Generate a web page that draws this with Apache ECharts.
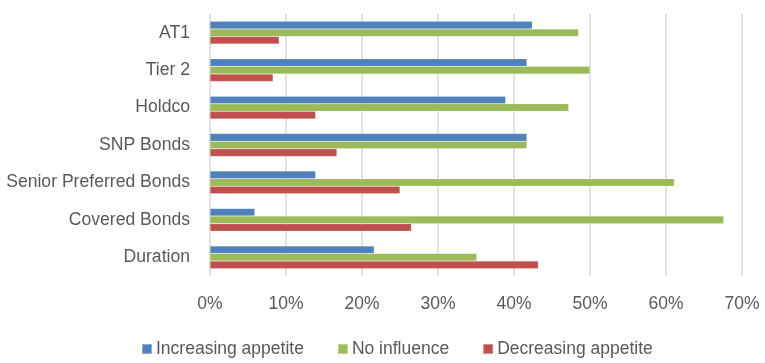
<!DOCTYPE html>
<html>
<head>
<meta charset="utf-8">
<script src="https://cdn.jsdelivr.net/npm/echarts@6/dist/echarts.min.js"></script>
<style>
  html, body { margin: 0; padding: 0; background: #ffffff; }
  #chart { width: 765px; height: 363px; }
</style>
</head>
<body>
<div id="chart"></div>
<script>
// Categories, top to bottom
var categories = ['AT1', 'Tier 2', 'Holdco', 'SNP Bonds', 'Senior Preferred Bonds', 'Covered Bonds', 'Duration'];

// Share of respondents (%)
var increasingAppetite = [42.4, 41.7, 38.9, 41.7, 13.9, 5.9, 21.6];
var noInfluence        = [48.5, 50.0, 47.2, 41.7, 61.1, 67.6, 35.1];
var decreasingAppetite = [9.1, 8.3, 13.9, 16.7, 25.0, 26.5, 43.2];

var seriesNames = ['Increasing appetite', 'No influence', 'Decreasing appetite'];
var seriesColors = ['#4f81bd', '#9bbb59', '#c0504d'];
var seriesValues = [increasingAppetite, noInfluence, decreasingAppetite];

var FONT = '"Liberation Sans", Arial, sans-serif';
var TEXT = '#595959';

var chart = echarts.init(document.getElementById('chart'), null, { renderer: 'canvas' });

chart.setOption({
  animation: false,
  backgroundColor: '#ffffff',
  textStyle: { fontFamily: FONT, color: TEXT },
  grid: { left: 210, right: 23, top: 14, bottom: 87, containLabel: false, outerBoundsMode: 'none' },
  legend: {
    data: seriesNames,
    bottom: 0,
    left: 136,
    itemWidth: 10,
    itemHeight: 10,
    itemGap: 33,
    icon: 'rect',
    textStyle: { fontFamily: FONT, fontSize: 17.5, color: TEXT, padding: [0, 0, 0, -1] }
  },
  xAxis: {
    type: 'value',
    min: 0,
    max: 70,
    interval: 10,
    axisLine: { show: false },
    axisTick: { show: false },
    axisLabel: { formatter: '{value}%', fontFamily: FONT, fontSize: 17.5, color: TEXT, margin: 19 },
    splitLine: { show: true, lineStyle: { color: '#d9d9d9', width: 1.5 } }
  },
  yAxis: {
    type: 'category',
    data: categories,
    inverse: true,
    axisLine: { show: false },
    axisTick: { show: false },
    axisLabel: { fontFamily: FONT, fontSize: 17.6, color: TEXT, margin: 20 }
  },
  series: seriesNames.map(function (name, i) {
    return {
      name: name,
      type: 'bar',
      data: seriesValues[i],
      barWidth: 7.6,
      barGap: '0%',
      itemStyle: { color: seriesColors[i], borderColor: 'rgba(255,255,255,0.35)', borderWidth: 0.5 }
    };
  })
});
</script>
</body>
</html>
